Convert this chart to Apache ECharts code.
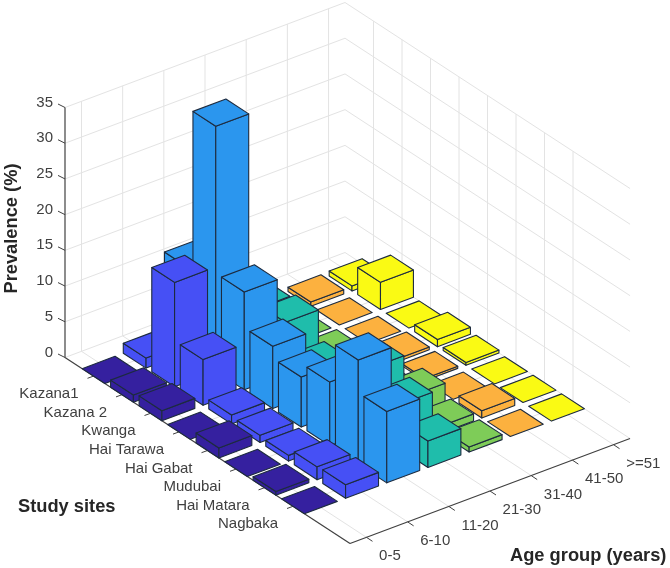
<!DOCTYPE html>
<html><head><meta charset="utf-8">
<style>html,body{margin:0;padding:0;background:#fff}#c{width:670px;height:568px}</style>
<script src="https://cdn.jsdelivr.net/npm/echarts@6/dist/echarts.min.js"></script>
</head><body><div id="c"></div>
<script>
// ---- data ----
var sites = ['Kazana1','Kazana 2','Kwanga','Hai Tarawa','Hai Gabat','Mudubai','Hai Matara','Nagbaka'];
var ages = ['0-5','6-10','11-20','21-30','31-40','41-50','>=51'];
var age0to5   = [0, 1.0, 1.4, 0, 1.4, 0, 0.5, 0];
var age6to10  = [1.4, 14.6, 6.4, 1.25, 1.0, 0.8, 1.8, 1.9];
var age11to20 = [12.0, 34.3, 13.7, 8.7, 7.0, 8.9, 14.6, 10];
var age21to30 = [2.0, 6.6, 7.3, 3.4, 2.5, 8.7, 6.2, 3.7];
var age31to40 = [0.3, 0, 0.3, 0.3, 0.3, 2.7, 1.0, 0.7];
var age41to50 = [0.6, 0, 0, 0.4, 0.3, 0, 1.0, 0];
var age51up   = [0.7, 3.8, 0, 1.0, 0.4, 0, 0, 0];
var ageColors = ['#35209f','#4650f5','#2b96ee','#1fbdab','#7ecc58','#fcb13f','#fafa14'];
var zTicks = [0,5,10,15,20,25,30,35];
var allAges = [age0to5, age6to10, age11to20, age21to30, age31to40, age41to50, age51up];

// ---- oblique projection settings ----
var SITE_MIN = 0, SITE_MAX = 10, AGE_MIN = 0.6, AGE_MAX = 7.4, Z_MAX = 35;
var SITE_DY = 18.6, AGE_DX = 41.18, AGE_DY = -15.44, HALF = 0.4;
var GRID_C = '#e3e3e3', AXIS_C = '#404040', TXT_C = '#404040', EDGE_C = '#1d2b3f';
var FONT = '"Liberation Sans", Arial, sans-serif';

// painter's order: far bars first
var barData = [];
for (var a = 7; a >= 1; a--) {
  for (var s = 1; s <= 8; s++) barData.push([s, a, allAges[a - 1][s - 1]]);
}

function projector(api) {
  return function (s, a, z) {
    var p = api.coord([s, z]);
    return [p[0] + (a - AGE_MIN) * AGE_DX, p[1] + s * SITE_DY + (a - AGE_MIN) * AGE_DY];
  };
}
function seg(p, q, color, w) {
  return { type: 'line', silent: true,
    shape: { x1: p[0], y1: p[1], x2: q[0], y2: q[1] },
    style: { stroke: color, lineWidth: w } };
}
function txt(x, y, text, align) {
  return { type: 'text', silent: true, x: x, y: y,
    style: { text: text, fill: TXT_C, font: '15px ' + FONT,
      align: align, verticalAlign: 'middle' } };
}

function renderFrame(params, api) {
  var P = projector(api), c = [], i;
  zTicks.forEach(function (z) {
    c.push(seg(P(SITE_MIN, AGE_MIN, z), P(SITE_MIN, AGE_MAX, z), GRID_C, 1));
    c.push(seg(P(SITE_MIN, AGE_MAX, z), P(SITE_MAX, AGE_MAX, z), GRID_C, 1));
  });
  for (i = 1; i <= ages.length; i++) {
    c.push(seg(P(SITE_MIN, i, 0), P(SITE_MIN, i, Z_MAX), GRID_C, 1));
    c.push(seg(P(SITE_MIN, i, 0), P(SITE_MAX, i, 0), GRID_C, 1));
  }
  for (i = 1; i <= sites.length; i++) {
    c.push(seg(P(i, AGE_MAX, 0), P(i, AGE_MAX, Z_MAX), GRID_C, 1));
    c.push(seg(P(i, AGE_MIN, 0), P(i, AGE_MAX, 0), GRID_C, 1));
  }
  c.push(seg(P(SITE_MIN, AGE_MIN, 0), P(SITE_MIN, AGE_MIN, Z_MAX), AXIS_C, 1.2));
  c.push(seg(P(SITE_MIN, AGE_MIN, 0), P(SITE_MAX, AGE_MIN, 0), AXIS_C, 1.2));
  c.push(seg(P(SITE_MAX, AGE_MIN, 0), P(SITE_MAX, AGE_MAX, 0), AXIS_C, 1.2));
  zTicks.forEach(function (z) {
    var p = P(SITE_MIN, AGE_MIN, z);
    c.push(seg(p, [p[0] - 7, p[1] - 3.5], AXIS_C, 1));
  });
  sites.forEach(function (name, k) {
    var p = P(k + 1, AGE_MIN, 0);
    c.push(seg(p, [p[0] - 6, p[1] + 2.2], AXIS_C, 1));
    c.push(txt(p[0] - 15, p[1] + 18, name, 'right'));
  });
  ages.forEach(function (name, k) {
    var p = P(SITE_MAX, k + 1, 0);
    c.push(seg(p, [p[0] + 6, p[1] + 4], AXIS_C, 1));
    c.push(txt(p[0] + 12.6, p[1] + 19, name, 'left'));
  });
  return { type: 'group', children: c };
}

function renderBar(params, api) {
  var P = projector(api);
  var s = api.value(0), a = api.value(1), z = api.value(2);
  var col = ageColors[a - 1];
  var s0 = s - HALF, s1 = s + HALF, a0 = a - HALF, a1 = a + HALF;
  function face(pts) {
    return { type: 'polygon', silent: true, shape: { points: pts },
      style: { fill: col, stroke: EDGE_C, lineWidth: 1.1, lineJoin: 'round' } };
  }
  var c = [];
  if (z > 0) {
    c.push(face([P(s0, a0, 0), P(s1, a0, 0), P(s1, a0, z), P(s0, a0, z)]));
    c.push(face([P(s1, a0, 0), P(s1, a1, 0), P(s1, a1, z), P(s1, a0, z)]));
  }
  c.push(face([P(s0, a0, z), P(s1, a0, z), P(s1, a1, z), P(s0, a1, z)]));
  return { type: 'group', children: c };
}

var chart = echarts.init(document.getElementById('c'), null, { renderer: 'canvas' });
chart.setOption({
  animation: false,
  backgroundColor: '#fff',
  grid: { left: 65, width: 285, top: 107.5, height: 250, containLabel: false, outerBoundsMode: 'none' },
  xAxis: { type: 'value', min: SITE_MIN, max: SITE_MAX, show: false },
  yAxis: {
    type: 'value', min: 0, max: Z_MAX, interval: 5,
    axisLine: { show: false }, axisTick: { show: false }, splitLine: { show: false },
    axisLabel: { color: TXT_C, fontSize: 15, fontFamily: FONT, margin: 12, verticalAlign: 'bottom', lineHeight: 10 },
    name: 'Prevalence (%)', nameLocation: 'middle', nameGap: 44, nameRotate: 90,
    nameTextStyle: { color: '#262626', fontSize: 18.3, fontWeight: 'bold', fontFamily: FONT, padding: [0, 0, 0, 8] }
  },
  graphic: [
    { type: 'text', left: 18, top: 498, silent: true,
      style: { text: 'Study sites', fill: '#262626', font: 'bold 18.3px ' + FONT } },
    { type: 'text', left: 510, top: 547, silent: true,
      style: { text: 'Age group (years)', fill: '#262626', font: 'bold 18.3px ' + FONT } }
  ],
  series: [
    { type: 'custom', coordinateSystem: 'cartesian2d', clip: false, silent: true, z: 1,
      renderItem: renderFrame, data: [[0, 0]] },
    { type: 'custom', coordinateSystem: 'cartesian2d', clip: false, silent: true, z: 2,
      renderItem: renderBar, encode: { x: 0, y: 2 }, data: barData }
  ]
});
</script></body></html>
